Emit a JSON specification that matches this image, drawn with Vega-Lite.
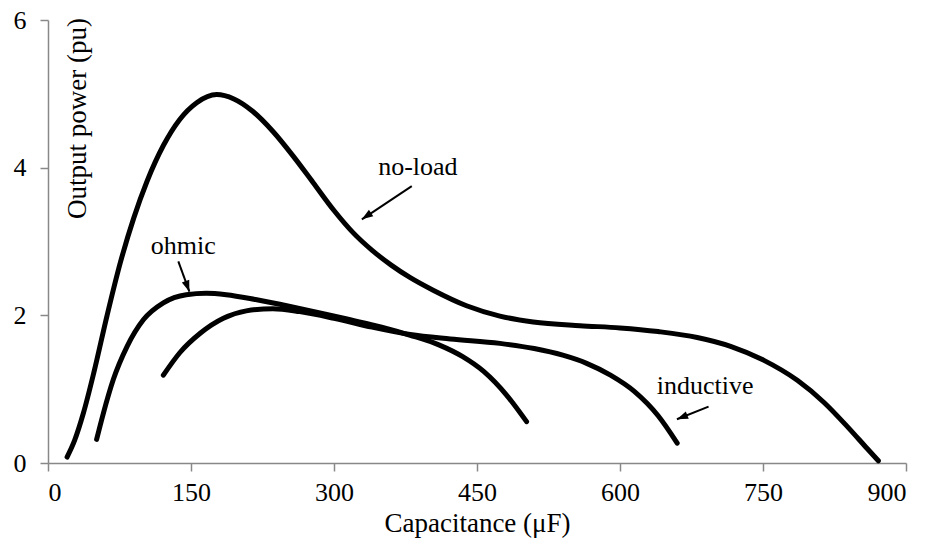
{
  "$schema": "https://vega.github.io/schema/vega-lite/v6.json",
  "autosize": "none",
  "width": 858,
  "height": 443,
  "padding": {"left": 48, "top": 20, "right": 24, "bottom": 80},
  "background": "white",
  "config": {
    "view": {"stroke": null},
    "font": "Liberation Serif",
    "axis": {"grid": false, "domainColor": "#888888", "tickColor": "#888888", "domainWidth": 1.5, "tickWidth": 1.5, "tickSize": 8, "labelFont": "Liberation Serif", "titleFont": "Liberation Serif", "labelFontSize": 26, "titleFontSize": 27, "labelColor": "black", "titleColor": "black", "titleFontWeight": "normal"}
  },
  "datasets": {
    "curves": [
      {"series": "no-load", "c": 20, "p": 0.08},
      {"series": "no-load", "c": 28, "p": 0.31},
      {"series": "no-load", "c": 37, "p": 0.67},
      {"series": "no-load", "c": 48, "p": 1.22},
      {"series": "no-load", "c": 62, "p": 2.00},
      {"series": "no-load", "c": 76, "p": 2.72},
      {"series": "no-load", "c": 90, "p": 3.32},
      {"series": "no-load", "c": 104, "p": 3.82},
      {"series": "no-load", "c": 121, "p": 4.30},
      {"series": "no-load", "c": 138, "p": 4.65},
      {"series": "no-load", "c": 156, "p": 4.88},
      {"series": "no-load", "c": 177, "p": 4.99},
      {"series": "no-load", "c": 195, "p": 4.93},
      {"series": "no-load", "c": 215, "p": 4.76},
      {"series": "no-load", "c": 236, "p": 4.49},
      {"series": "no-load", "c": 257, "p": 4.16},
      {"series": "no-load", "c": 278, "p": 3.80},
      {"series": "no-load", "c": 300, "p": 3.42},
      {"series": "no-load", "c": 320, "p": 3.12},
      {"series": "no-load", "c": 340, "p": 2.88},
      {"series": "no-load", "c": 360, "p": 2.68},
      {"series": "no-load", "c": 380, "p": 2.51},
      {"series": "no-load", "c": 404, "p": 2.34},
      {"series": "no-load", "c": 439, "p": 2.13},
      {"series": "no-load", "c": 474, "p": 1.99},
      {"series": "no-load", "c": 509, "p": 1.91},
      {"series": "no-load", "c": 558, "p": 1.86},
      {"series": "no-load", "c": 600, "p": 1.83},
      {"series": "no-load", "c": 640, "p": 1.78},
      {"series": "no-load", "c": 681, "p": 1.70},
      {"series": "no-load", "c": 716, "p": 1.58},
      {"series": "no-load", "c": 751, "p": 1.39},
      {"series": "no-load", "c": 786, "p": 1.12},
      {"series": "no-load", "c": 814, "p": 0.82},
      {"series": "no-load", "c": 838, "p": 0.50},
      {"series": "no-load", "c": 859, "p": 0.20},
      {"series": "no-load", "c": 871, "p": 0.03},
      {"series": "ohmic", "c": 51, "p": 0.32},
      {"series": "ohmic", "c": 58, "p": 0.67},
      {"series": "ohmic", "c": 68.5, "p": 1.13},
      {"series": "ohmic", "c": 83, "p": 1.58},
      {"series": "ohmic", "c": 100, "p": 1.94},
      {"series": "ohmic", "c": 121, "p": 2.17},
      {"series": "ohmic", "c": 145, "p": 2.28},
      {"series": "ohmic", "c": 166, "p": 2.30},
      {"series": "ohmic", "c": 187, "p": 2.28},
      {"series": "ohmic", "c": 219, "p": 2.21},
      {"series": "ohmic", "c": 254, "p": 2.12},
      {"series": "ohmic", "c": 290, "p": 2.02},
      {"series": "ohmic", "c": 317, "p": 1.94},
      {"series": "ohmic", "c": 350, "p": 1.84},
      {"series": "ohmic", "c": 380, "p": 1.73},
      {"series": "ohmic", "c": 410, "p": 1.60},
      {"series": "ohmic", "c": 435, "p": 1.44},
      {"series": "ohmic", "c": 457, "p": 1.24},
      {"series": "ohmic", "c": 481, "p": 0.92},
      {"series": "ohmic", "c": 502, "p": 0.56},
      {"series": "inductive", "c": 121, "p": 1.19},
      {"series": "inductive", "c": 138, "p": 1.49},
      {"series": "inductive", "c": 160, "p": 1.76},
      {"series": "inductive", "c": 184, "p": 1.96},
      {"series": "inductive", "c": 208, "p": 2.06},
      {"series": "inductive", "c": 236, "p": 2.09},
      {"series": "inductive", "c": 264, "p": 2.05},
      {"series": "inductive", "c": 300, "p": 1.96},
      {"series": "inductive", "c": 340, "p": 1.84},
      {"series": "inductive", "c": 380, "p": 1.74},
      {"series": "inductive", "c": 422, "p": 1.68},
      {"series": "inductive", "c": 474, "p": 1.62},
      {"series": "inductive", "c": 510, "p": 1.55},
      {"series": "inductive", "c": 540, "p": 1.46},
      {"series": "inductive", "c": 565, "p": 1.35},
      {"series": "inductive", "c": 590, "p": 1.19},
      {"series": "inductive", "c": 615, "p": 0.97},
      {"series": "inductive", "c": 640, "p": 0.64},
      {"series": "inductive", "c": 660, "p": 0.27}
    ],
    "notes": [
      {"label": "no-load", "tc": 388, "tp": 3.894, "c1": 381.6, "p1": 3.75, "c2": 329.2, "p2": 3.30},
      {"label": "ohmic", "tc": 142, "tp": 2.836, "c1": 136.7, "p1": 2.73, "c2": 148.3, "p2": 2.32},
      {"label": "inductive", "tc": 689.4, "tp": 0.932, "c1": 692.9, "p1": 0.764, "c2": 659.7, "p2": 0.593}
    ]
  },
  "layer": [
    {
      "data": {"name": "curves"},
      "mark": {"type": "line", "color": "black", "strokeWidth": 5, "strokeCap": "round", "interpolate": "monotone"},
      "encoding": {
        "x": {"field": "c", "type": "quantitative", "scale": {"domain": [0, 900], "nice": false}, "axis": {"values": [0, 150, 300, 450, 600, 750, 900], "title": "Capacitance (μF)", "labelPadding": 8, "titlePadding": 5}},
        "y": {"field": "p", "type": "quantitative", "scale": {"domain": [0, 6], "nice": false}, "axis": {"values": [0, 2, 4, 6], "format": "d", "title": "Output power (pu)", "labelPadding": 14, "titleAngle": 270, "titleX": 37, "titleY": 98, "titleAlign": "center", "titleBaseline": "alphabetic"}},
        "detail": {"field": "series"}
      }
    },
    {
      "data": {"name": "notes"},
      "mark": {"type": "text", "font": "Liberation Serif", "fontSize": 26, "align": "center", "baseline": "alphabetic", "color": "black"},
      "encoding": {
        "x": {"field": "tc", "type": "quantitative"},
        "y": {"field": "tp", "type": "quantitative"},
        "text": {"field": "label"}
      }
    },
    {
      "data": {"name": "notes"},
      "mark": {"type": "rule", "color": "black", "strokeWidth": 2},
      "encoding": {
        "x": {"field": "c1", "type": "quantitative"},
        "y": {"field": "p1", "type": "quantitative"},
        "x2": {"field": "c2"},
        "y2": {"field": "p2"}
      }
    },
    {
      "data": {"name": "notes"},
      "transform": [{"filter": "datum.label === 'no-load'"}],
      "mark": {"type": "point", "shape": "M0,0 L0.35,1 L-0.35,1 Z", "filled": true, "color": "black", "opacity": 1, "size": 500, "angle": 236},
      "encoding": {"x": {"field": "c2", "type": "quantitative"}, "y": {"field": "p2", "type": "quantitative"}}
    },
    {
      "data": {"name": "notes"},
      "transform": [{"filter": "datum.label === 'ohmic'"}],
      "mark": {"type": "point", "shape": "M0,0 L0.35,1 L-0.35,1 Z", "filled": true, "color": "black", "opacity": 1, "size": 500, "angle": 160},
      "encoding": {"x": {"field": "c2", "type": "quantitative"}, "y": {"field": "p2", "type": "quantitative"}}
    },
    {
      "data": {"name": "notes"},
      "transform": [{"filter": "datum.label === 'inductive'"}],
      "mark": {"type": "point", "shape": "M0,0 L0.35,1 L-0.35,1 Z", "filled": true, "color": "black", "opacity": 1, "size": 500, "angle": 248},
      "encoding": {"x": {"field": "c2", "type": "quantitative"}, "y": {"field": "p2", "type": "quantitative"}}
    }
  ]
}
